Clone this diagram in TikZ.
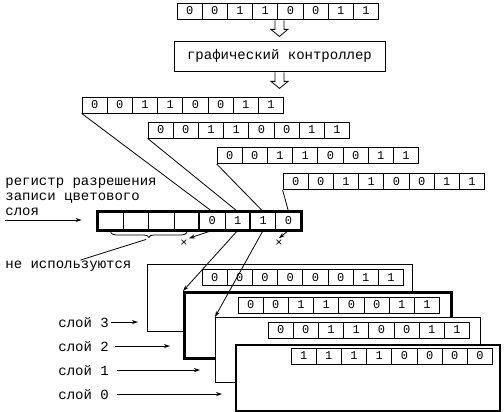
\documentclass[tikz,border=0pt]{standalone}
\usepackage{fontspec}
\newfontfamily\pixfont{Liberation Mono}
\usetikzlibrary{arrows.meta,decorations.pathreplacing,calc}
\newcommand\lblfont{\pixfont\fontsize{14}{15}\selectfont}
\newcommand\bitfont{\pixfont\fontsize{12}{12}\selectfont}
\tikzset{
  cell/.style={draw, minimum width=25.2pt, minimum height=16pt, inner sep=0pt, font=\bitfont},
  maskcell/.style={cell, minimum width=25.4pt, minimum height=18pt},
  lbl/.style={inner sep=0pt, font=\lblfont},
  tip/.style={-{Stealth[length=6pt,width=4pt]}},
  layerbox/.style={draw, fill=white, anchor=north west, inner sep=0pt},
  cross/.style={font=\pixfont\fontsize{12}{12}\selectfont, inner sep=1pt}
}
% name, left x, middle y, bits
\newcommand\bitreg[4]{%
  \foreach \b [count=\i from 0] in {#4}
    \node[cell] (#1-\i) at ({#2+12.6+25.2*\i},{#3}) {\b};
}
\newcommand\hollowdown[1]{%
  \draw (#1) ++(-4.5,1) -- ++(0,9) -- ++(-4,0) -- ++(8.5,7) -- ++(8.5,-7) -- ++(-4,0) -- ++(0,-9);
}
\begin{document}
\begin{tikzpicture}[x=1pt, y=-1pt, line width=0.8pt]
  \useasboundingbox (0,0) rectangle (504,412);
  % input byte and controller
  \bitreg{top}{177}{11}{0,0,1,1,0,0,1,1}
  \node[draw, minimum width=211pt, minimum height=30pt, font=\lblfont] (ctrl) at (279.5,56) {графический контроллер};
  \hollowdown{[xshift=2pt]top-4.south west}
  \hollowdown{ctrl.south}
  % latches
  \bitreg{regA}{82}{105}{0,0,1,1,0,0,1,1}
  \bitreg{regB}{148}{130}{0,0,1,1,0,0,1,1}
  \bitreg{regC}{217}{155.5}{0,0,1,1,0,0,1,1}
  \bitreg{regD}{283}{181.5}{0,0,1,1,0,0,1,1}
  % map mask register
  \node[lbl, anchor=north west, align=left] (masklbl) at (5,178) {регистр разрешения\\записи цветового\\слоя};
  \foreach \b [count=\i from 0] in {{},{},{},{},0,1,1,0}
    \node[maskcell] (mask-\i) at ({98+12.7+25.4*\i},221) {\b};
  \draw[line width=2.5pt] (mask-0.north west) rectangle (mask-7.south east);
  \draw[line width=1.5pt] (mask-4.north west) -- (mask-4.south west)
    (mask-6.north west) -- (mask-6.south west);
  \coordinate (ma) at (5,220);
  \draw[tip, shorten >=16pt] (ma) -- (ma -| mask-0.west);
  \draw[decorate, decoration={brace, mirror, amplitude=5pt}]
    ([yshift=-2pt]mask-0.south) -- ([yshift=-2pt]mask-3.south);
  \coordinate (bt) at ($(mask-1.south east)+(-3,9)$);
  \node[lbl, anchor=base west] (nu) at (5,268) {не используются};
  \node[cross] (x1) at (184,243) {×};
  \node[cross] (x2) at (279,243) {×};
  % colour planes
  \node[layerbox, minimum width=265pt, minimum height=67pt] (L3) at (147,264) {};
  \bitreg{pl3}{202}{277.5}{0,0,0,0,0,0,1,1}
  \node[layerbox, line width=2.5pt, minimum width=267pt, minimum height=66pt] (L2) at (183,291) {};
  \bitreg{pl2}{238}{305}{0,0,1,1,0,0,1,1}
  \node[layerbox, minimum width=265pt, minimum height=65pt] (L1) at (215,317) {};
  \bitreg{pl1}{268}{330}{0,0,1,1,0,0,1,1}
  \node[layerbox, line width=1.5pt, minimum width=264pt, minimum height=66pt] (L0) at (235,344) {};
  \bitreg{pl0}{291}{356}{1,1,1,1,0,0,0,0}
  \node[lbl, anchor=base west] (s3) at (58,327) {слой 3};
  \node[lbl, anchor=base west] (s2) at (58,351) {слой 2};
  \node[lbl, anchor=base west] (s1) at (58,375) {слой 1};
  \node[lbl, anchor=base west] (s0) at (58,399) {слой 0};
  \draw[tip, shorten >=9pt] ([xshift=2pt]s3.east) -- (s3.east -| L3.west);
  \draw[tip, shorten >=13pt] ([xshift=6pt]s2.east) -- (s2.east -| L2.west);
  \draw[tip, shorten >=15pt] ([xshift=8pt]s1.east) -- (s1.east -| L1.west);
  \draw[tip, shorten >=13pt] ([xshift=8pt]s0.east) -- (s0.east -| L0.west);
  % connectors
  \draw (regA-0.south west) -- (mask-4.north);
  \draw (regB-0.south west) -- (mask-5.north);
  \draw (regC-0.south west) -- (mask-6.north);
  \draw (regD-0.south west) -- (mask-7.north);
  \draw (bt) -- ([xshift=12pt]nu.north);
  \draw[tip] (mask-4.south) -- (x1.north east);
  \draw[tip] (mask-7.south) -- (x2.north);
  \draw[tip] (mask-5.south) -- (L2.north west);
  \draw[tip] (mask-6.south) -- (L1.north west);
\end{tikzpicture}
\end{document}
